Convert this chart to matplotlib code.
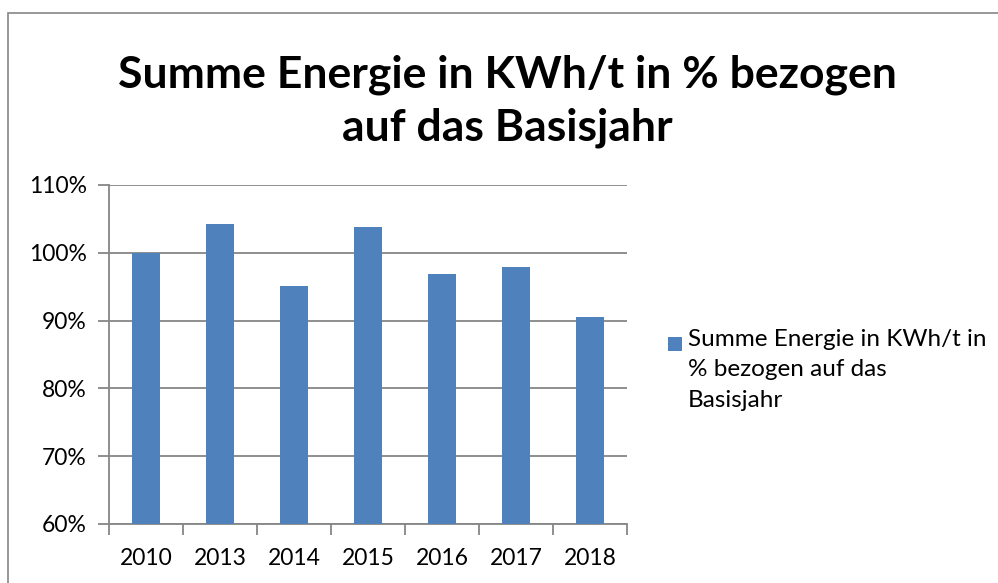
import matplotlib
matplotlib.use("Agg")
import matplotlib.pyplot as plt
import matplotlib.patches as mpatches
import numpy as np
from matplotlib.ticker import FuncFormatter

# ── Data ──────────────────────────────────────────────────────────────────────
years = ["2010", "2013", "2014", "2015", "2016", "2017", "2018"]
values = [100.0, 104.3, 95.1, 103.8, 96.9, 97.9, 90.6]
series_label = "Summe Energie in KWh/t in\n% bezogen auf das\nBasisjahr"
title = "Summe Energie in KWh/t in % bezogen\nauf das Basisjahr"

BAR_COLOR = "#4F81BD"
GRID_COLOR = "#868686"
FONT = ["Lato", "DejaVu Sans"]

plt.rcParams["font.family"] = FONT

fig = plt.figure(figsize=(9.98, 5.83), dpi=100, facecolor="white")

# outer chart border
fig.patches.append(mpatches.Rectangle((8 / 998, -0.05), 2, 1.05 - 13 / 583,
                                      transform=fig.transFigure, fill=False,
                                      edgecolor="#868686", linewidth=1.2))

fig.text(0.508, 1 - 101 / 583, title, ha="center", va="center", fontsize=32,
         fontweight="bold", linespacing=1.38, color="black")

ax = fig.add_axes([109 / 998, 1 - 524 / 583, (627 - 109) / 998, (524 - 185) / 583])
x = np.arange(len(years))
ax.bar(x, values, width=0.39, color=BAR_COLOR, zorder=3)

ax.set_ylim(60, 110)
ax.set_xlim(-0.5, len(years) - 0.5)
ax.set_yticks(np.arange(60, 111, 10))
ax.yaxis.set_major_formatter(FuncFormatter(lambda v, _: f"{v:.0f}%"))
ax.grid(axis="y", color=GRID_COLOR, linewidth=1.3, zorder=0)

# category boundaries get the tick marks, labels sit centred
ax.set_xticks(np.arange(-0.5, len(years), 1.0))
ax.set_xticklabels([])
ax.set_xticks(x, minor=True)
ax.set_xticklabels(years, minor=True)
ax.tick_params(axis="x", which="major", length=8, width=1.3, color=GRID_COLOR,
               direction="out")
ax.tick_params(axis="x", which="minor", length=0, labelsize=16.5, pad=17)
ax.tick_params(axis="y", length=8, width=1.3, color=GRID_COLOR, labelsize=16.5,
               pad=8)

for side in ("top", "right"):
    ax.spines[side].set_visible(False)
for side in ("left", "bottom"):
    ax.spines[side].set_color(GRID_COLOR)
    ax.spines[side].set_linewidth(1.3)

# legend: square key beside the first line of the wrapped label
fig.patches.append(mpatches.Rectangle((668 / 998, 1 - 351 / 583), 14 / 998, 14 / 583,
                                      transform=fig.transFigure,
                                      facecolor=BAR_COLOR, edgecolor="none"))
fig.text(688 / 998, 1 - 329 / 583, series_label, ha="left", va="top",
         fontsize=17.5, linespacing=1.55, color="black")

fig.savefig("out.png", dpi=100, facecolor="white")
